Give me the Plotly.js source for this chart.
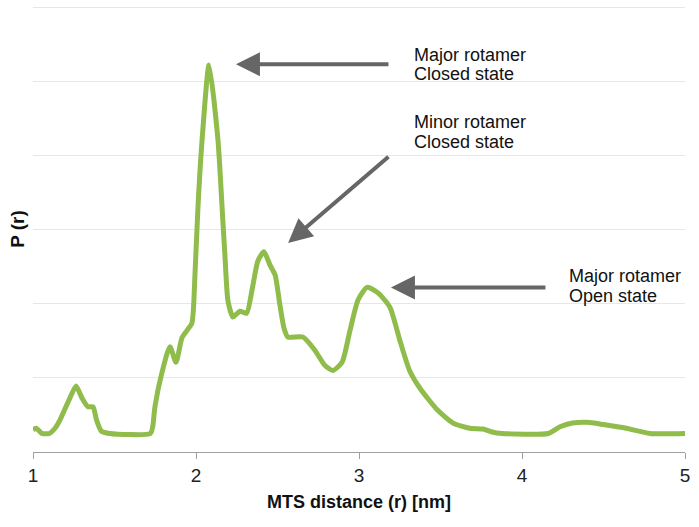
<!DOCTYPE html>
<html>
<head>
<meta charset="utf-8">
<script src="https://cdn.plot.ly/plotly-3.0.1.min.js"></script>
<style>
  body { margin: 0; background: #fff; }
  #chart { width: 699px; height: 527px; }
</style>
</head>
<body>
<div id="chart"></div>
<script>
// MTS distance (nm) and P(r)
const rValues = [1.00, 1.02, 1.055, 1.10, 1.135, 1.165, 1.19, 1.227, 1.264, 1.30, 1.337, 1.368, 1.39, 1.42, 1.47,
  1.72, 1.735, 1.748, 1.79, 1.84, 1.877, 1.914, 1.945, 1.975, 1.994, 2.012, 2.037, 2.08, 2.135,
  2.16, 2.178, 2.196, 2.227, 2.27, 2.31, 2.345, 2.38, 2.417, 2.454, 2.485, 2.515, 2.54, 2.564, 2.656,
  2.73, 2.79, 2.84, 2.896, 2.945, 2.994, 3.05, 3.12, 3.19, 3.25, 3.31, 3.374, 3.48, 3.577, 3.68, 3.76,
  3.816, 3.877, 4.16, 4.233, 4.31, 4.40, 4.50, 4.64, 4.785, 5.00];
const pValues = [0.30, 0.32, 0.25, 0.25, 0.32, 0.43, 0.55, 0.73, 0.89, 0.73, 0.61, 0.61, 0.43, 0.28, 0.25,
  0.25, 0.35, 0.61, 1.06, 1.42, 1.21, 1.54, 1.64, 1.74, 2.41, 3.30, 4.20, 5.22, 4.20,
  3.30, 2.63, 2.04, 1.82, 1.90, 1.87, 2.20, 2.58, 2.70, 2.52, 2.39, 1.98, 1.67, 1.55, 1.55,
  1.37, 1.17, 1.10, 1.21, 1.64, 2.05, 2.22, 2.14, 1.95, 1.51, 1.10, 0.86, 0.57, 0.39, 0.32, 0.31,
  0.27, 0.25, 0.25, 0.34, 0.39, 0.40, 0.37, 0.32, 0.25, 0.25];

const xTicks = [1, 2, 3, 4, 5];

// labels and where their arrows point
const labelLines = [["Major rotamer", "Closed state"], ["Minor rotamer", "Closed state"], ["Major rotamer", "Open state"]];
const labelX = [3.325, 3.325, 4.276];
const labelY = [[5.35, 5.10], [4.45, 4.18], [2.37, 2.10]];
const arrowHeads = [[2.245, 5.23], [2.565, 2.82], [3.196, 2.22]];
const arrowTails = [[3.19, 5.23], [3.19, 4.00], [4.153, 2.22]];

let annotations = [];
for (let i = 0; i < labelLines.length; i++) {
  annotations.push({
    x: arrowHeads[i][0], y: arrowHeads[i][1],
    ax: arrowTails[i][0], ay: arrowTails[i][1],
    axref: "x", ayref: "y", text: "",
    showarrow: true, arrowhead: 2, arrowsize: 1.2, arrowwidth: 4,
    arrowcolor: "#666666", standoff: 0
  });
  for (let j = 0; j < labelLines[i].length; j++) {
    annotations.push({
      x: labelX[i], y: labelY[i][j], text: labelLines[i][j],
      xanchor: "left", yanchor: "middle", showarrow: false,
      font: {family: "Liberation Sans, Arial, sans-serif", size: 18, color: "#111"}
    });
  }
}

let data = [{
  x: rValues,
  y: pValues,
  type: "scatter",
  mode: "lines",
  line: {color: "#8fbc4b", width: 5, shape: "spline", smoothing: 0.6},
  hoverinfo: "skip"
}];

let layout = {
  width: 699,
  height: 527,
  margin: {l: 33, r: 14, t: 6, b: 75},
  paper_bgcolor: "#fff",
  plot_bgcolor: "#fff",
  showlegend: false,
  xaxis: {
    range: [1, 5],
    tickvals: xTicks,
    ticks: "outside",
    ticklen: 6,
    tickcolor: "#a0a0a0",
    showline: true,
    linecolor: "#a0a0a0",
    linewidth: 1,
    showgrid: false,
    zeroline: false,
    tickfont: {family: "Liberation Sans, Arial, sans-serif", size: 19, color: "#222"},
    title: {text: "<b>MTS distance (r) [nm]</b>", standoff: 10,
      font: {family: "Liberation Sans, Arial, sans-serif", size: 18, color: "#111"}}
  },
  yaxis: {
    range: [0, 6.015],
    dtick: 1,
    showticklabels: false,
    ticks: "",
    showline: false,
    zeroline: false,
    showgrid: true,
    gridcolor: "#e2e7f0",
    gridwidth: 1,
    title: {text: "<b>P (r)</b>", standoff: 2,
      font: {family: "Liberation Sans, Arial, sans-serif", size: 19, color: "#111"}}
  },
  annotations: annotations
};

Plotly.newPlot("chart", data, layout, {displayModeBar: false, staticPlot: true});
</script>
</body>
</html>
